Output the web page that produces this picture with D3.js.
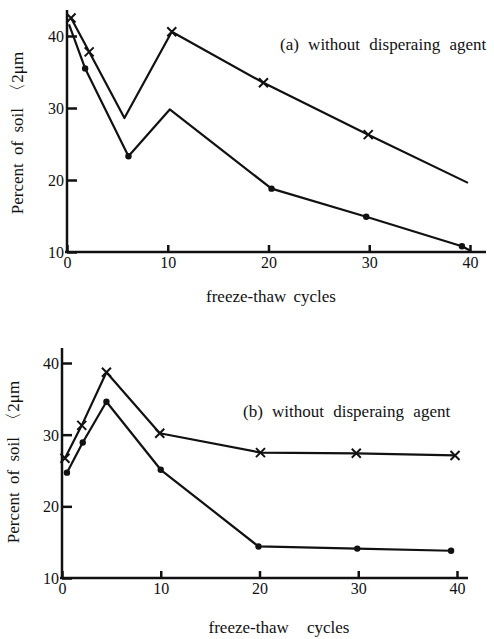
<!DOCTYPE html>
<html>
<head>
    <script src="https://d3js.org/d3.v7.min.js"></script>
</head>
<body style="margin:0">
<script>
    // panel (a)
    var crossA = [[0.4, 42.5], [2.2, 37.8], [5.7, 28.6], [10.4, 40.6], [19.5, 33.5], [29.9, 26.3], [39.8, 19.6]];
    var crossAMarked = [true, true, false, true, true, true, false];
    var dotA = [[0.2, 41.6], [1.8, 35.5], [6.1, 23.3], [10.2, 29.8], [20.3, 18.8], [29.7, 14.9], [39.2, 10.8], [40.0, 10.2]];
    var dotAMarked = [false, true, true, false, true, true, true, false];

    // panel (b)
    var crossB = [[0.3, 26.7], [2.0, 31.3], [4.5, 38.7], [9.9, 30.2], [20.1, 27.5], [29.8, 27.4], [39.8, 27.1]];
    var dotB = [[0.5, 24.7], [2.1, 28.9], [4.5, 34.6], [10.0, 25.1], [19.9, 14.4], [29.9, 14.1], [39.4, 13.8]];

    var xTicks = [0, 10, 20, 30, 40];
    var yTicks = [10, 20, 30, 40];

    var FONT = "Liberation Serif, Times New Roman, Tinos, serif";
    var INK = "#111";

    var svg = d3.select("body").append("svg")
        .attr("width", 494)
        .attr("height", 639)
        .style("font-family", FONT);

    function styleAxis(s) {
        s.attr("font-family", FONT).attr("font-size", 16);
        s.selectAll("path, line").attr("stroke", INK).attr("stroke-width", 2.5);
        s.selectAll(".tick text").attr("fill", INK).style("font-family", FONT);
    }

    function label(g) {
        return g.append("text").attr("fill", INK).attr("font-size", 17).style("font-family", FONT);
    }

    function panel(opt) {
        var x = d3.scaleLinear().domain([0, 40]).range([opt.x0, opt.x40]);
        var y = d3.scaleLinear().domain([10, 40]).range([opt.y10, opt.y40]);
        var g = svg.append("g");

        g.append("g")
            .attr("transform", "translate(0," + opt.y10 + ")")
            .call(d3.axisBottom(x).tickValues(xTicks).tickSize(-7).tickPadding(5).tickFormat(d3.format("d")))
            .call(styleAxis)
            .call(function(s) {
                s.select(".domain").attr("d", "M" + (opt.x0 - 2) + ",0H" + opt.xEnd);
            });

        g.append("g")
            .attr("transform", "translate(" + opt.x0 + ",0)")
            .call(d3.axisLeft(y).tickValues(yTicks).tickSize(-10).tickPadding(3).tickFormat(d3.format("d")))
            .call(styleAxis)
            .call(function(s) {
                s.selectAll(".tick text").attr("dy", "0.35em");
                s.select(".domain").attr("d", "M0," + (opt.y10 + 1) + "V" + opt.yTop);
            });

        var line = d3.line().x(function(d) { return x(d[0]); }).y(function(d) { return y(d[1]); });

        [opt.cross, opt.dot].forEach(function(s) {
            g.append("path")
                .attr("d", line(s))
                .attr("fill", "none")
                .attr("stroke", INK)
                .attr("stroke-width", 2.2)
                .attr("stroke-linejoin", "round");
        });

        var cm = opt.cross.filter(function(d, i) { return opt.crossMarked[i]; });
        g.selectAll(".cross").data(cm).enter().append("path")
            .attr("class", "cross")
            .attr("d", function(d) {
                var cx = x(d[0]), cy = y(d[1]), r = 4.5;
                return "M" + (cx - r) + "," + (cy - r) + "L" + (cx + r) + "," + (cy + r) +
                    "M" + (cx + r) + "," + (cy - r) + "L" + (cx - r) + "," + (cy + r);
            })
            .attr("stroke", INK).attr("stroke-width", 2);

        var dm = opt.dot.filter(function(d, i) { return opt.dotMarked[i]; });
        g.selectAll(".dot").data(dm).enter().append("circle")
            .attr("cx", function(d) { return x(d[0]); })
            .attr("cy", function(d) { return y(d[1]); })
            .attr("r", 3.2)
            .attr("fill", INK);

        label(g)
            .attr("x", opt.titleX).attr("y", opt.titleY)
            .attr("word-spacing", 5)
            .text(opt.title);

        label(g)
            .attr("x", opt.xLabelX).attr("y", opt.xLabelY)
            .attr("text-anchor", "middle")
            .attr("word-spacing", opt.xLabelGap)
            .text(opt.xLabel);

        label(g)
            .attr("transform", "translate(" + opt.yLabelX + "," + opt.yLabelY + ") rotate(-90)")
            .attr("text-anchor", "middle")
            .attr("word-spacing", 4)
            .text("Percent of soil \u30082\u03bcm");
    }

    panel({
        x0: 67, x40: 470, xEnd: 486, y10: 252, y40: 36, yTop: 10,
        cross: crossA, crossMarked: crossAMarked, dot: dotA, dotMarked: dotAMarked,
        title: "(a) without disperaing agent", titleX: 280, titleY: 50,
        xLabel: "freeze-thaw cycles", xLabelGap: 3, xLabelX: 271, xLabelY: 302,
        yLabelX: 23, yLabelY: 133
    });

    panel({
        x0: 62, x40: 457, xEnd: 468, y10: 578, y40: 363, yTop: 348,
        cross: crossB, crossMarked: crossB.map(function() { return true; }),
        dot: dotB, dotMarked: dotB.map(function() { return true; }),
        title: "(b) without disperaing agent", titleX: 243, titleY: 417,
        xLabel: "freeze-thaw cycles", xLabelGap: 14, xLabelX: 279, xLabelY: 633,
        yLabelX: 19, yLabelY: 462
    });
</script>
</body>
</html>
